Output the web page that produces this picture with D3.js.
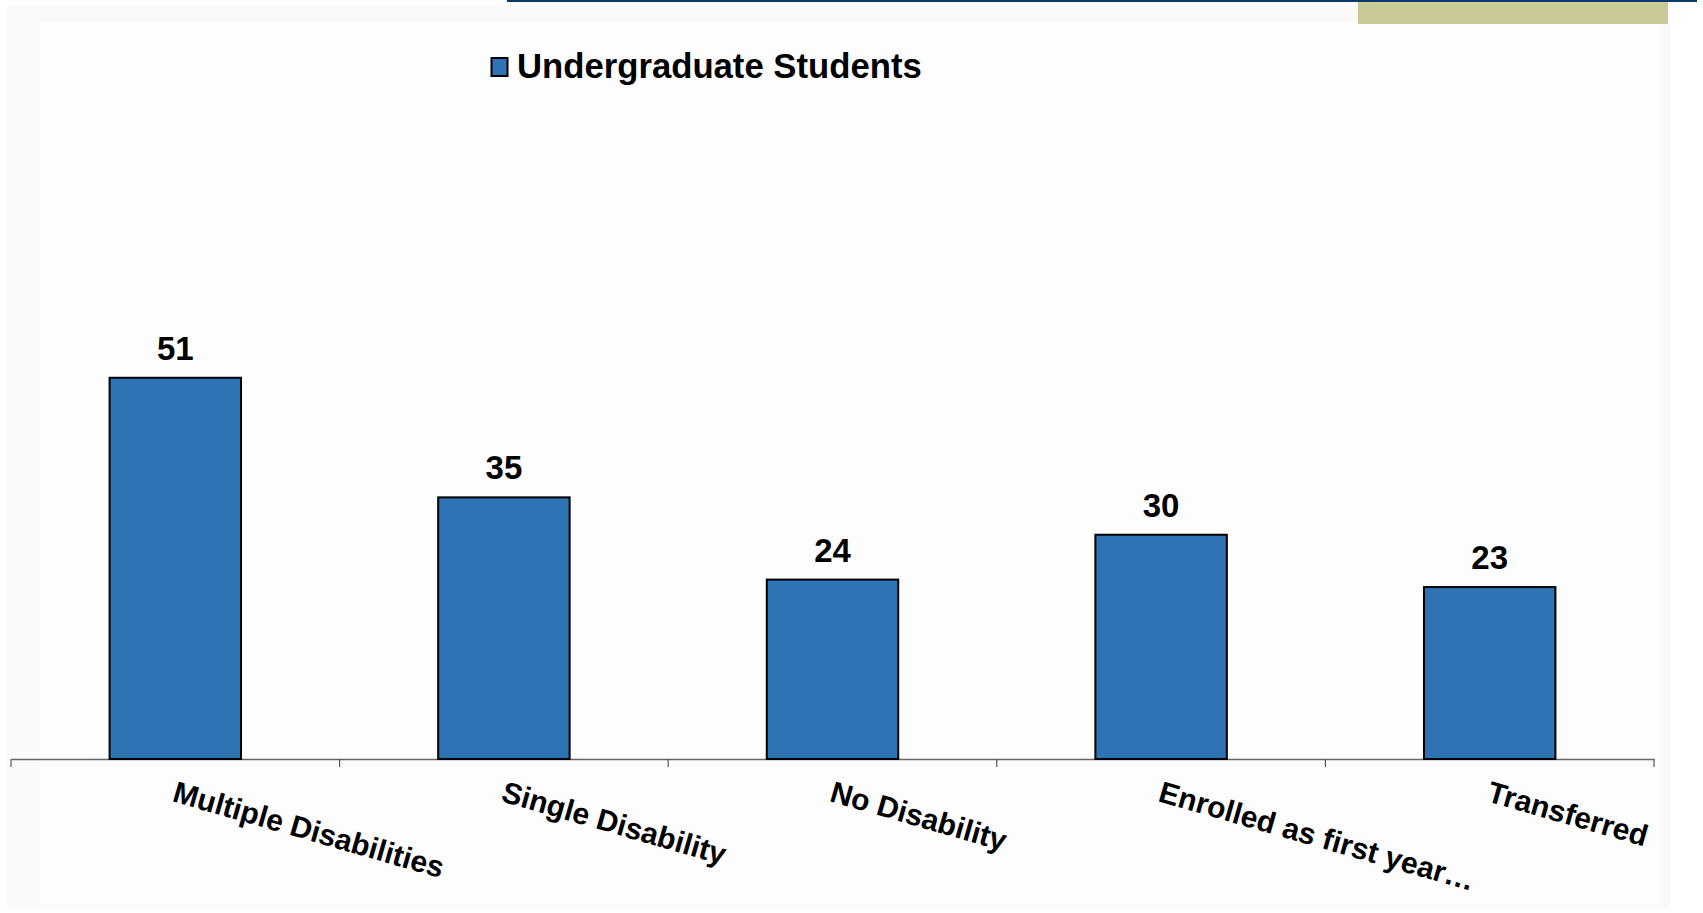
<!DOCTYPE html>
<html>
<head>
<meta charset="utf-8">
<script src="https://cdn.jsdelivr.net/npm/d3@7"></script>
<style>
  html, body { margin: 0; padding: 0; background: #ffffff; }
  svg { display: block; }
  text { font-family: "Liberation Sans", Arial, sans-serif; font-weight: bold; fill: #000; }
</style>
</head>
<body>
<svg id="chart" width="1703" height="913"></svg>
<script>
const categories = ["Multiple Disabilities", "Single Disability", "No Disability", "Enrolled as first year\u2026", "Transferred"];
const values = [51, 35, 24, 30, 23];
const seriesName = "Undergraduate Students";
const yDomain = [0, 60];

const svg = d3.select("#chart");

// faint slide background panels
svg.append("rect").attr("x", 7).attr("y", 5).attr("width", 1663).attr("height", 905).attr("fill", "#fafafa");
svg.append("rect").attr("x", 40).attr("y", 21).attr("width", 1620).attr("height", 883).attr("fill", "#fdfdfd");

// top decoration
svg.append("rect").attr("x", 1358).attr("y", 1).attr("width", 310).attr("height", 23).attr("fill", "#cbca96");
svg.append("rect").attr("x", 507).attr("y", 0).attr("width", 1190).attr("height", 2).attr("fill", "#0b3a6b");

const baseY = 759;
const x = d3.scaleBand().domain(categories).range([11, 1654]).padding(0);
const y = d3.scaleLinear().domain(yDomain).range([baseY, 310.5]);

// axis
const axis = d3.axisBottom(x).tickSize(0).tickFormat("");
const gAxis = svg.append("g").attr("transform", `translate(0,${baseY})`).call(axis);
gAxis.select(".domain").attr("stroke", "#666").attr("stroke-width", 1.5);
// tick marks at band boundaries
const bounds = categories.map(c => x(c)).concat([x(categories[categories.length - 1]) + x.bandwidth()]);
svg.append("g").selectAll("line").data(bounds).join("line")
  .attr("x1", d => d).attr("x2", d => d)
  .attr("y1", baseY).attr("y2", baseY + 8)
  .attr("stroke", "#555").attr("stroke-width", 1.2);

const barW = x.bandwidth() * 0.4;

// bars
svg.append("g").selectAll("rect").data(values).join("rect")
  .attr("x", (d, i) => x(categories[i]) + (x.bandwidth() - barW) / 2)
  .attr("y", d => y(d))
  .attr("width", barW)
  .attr("height", d => baseY - y(d))
  .attr("fill", "#2e74b5")
  .attr("stroke", "#000")
  .attr("stroke-width", 2);

// value labels
svg.append("g").selectAll("text").data(values).join("text")
  .attr("x", (d, i) => x(categories[i]) + x.bandwidth() / 2)
  .attr("y", d => y(d) - 18)
  .attr("text-anchor", "middle")
  .attr("font-size", 33)
  .text(d => d);

// category labels (rotated)
svg.append("g").selectAll("text").data(categories).join("text")
  .attr("transform", c => `translate(${x(c) + x.bandwidth() / 2 - 4},${baseY + 42}) rotate(16)`)
  .attr("text-anchor", "start")
  .attr("font-size", 30)
  .text(c => c);

// legend
svg.append("rect").attr("x", 491.5).attr("y", 58).attr("width", 16).attr("height", 18)
  .attr("fill", "#2e74b5").attr("stroke", "#000").attr("stroke-width", 2);
svg.append("text").attr("x", 517).attr("y", 78).attr("font-size", 34.7).text(seriesName);
</script>
</body>
</html>
